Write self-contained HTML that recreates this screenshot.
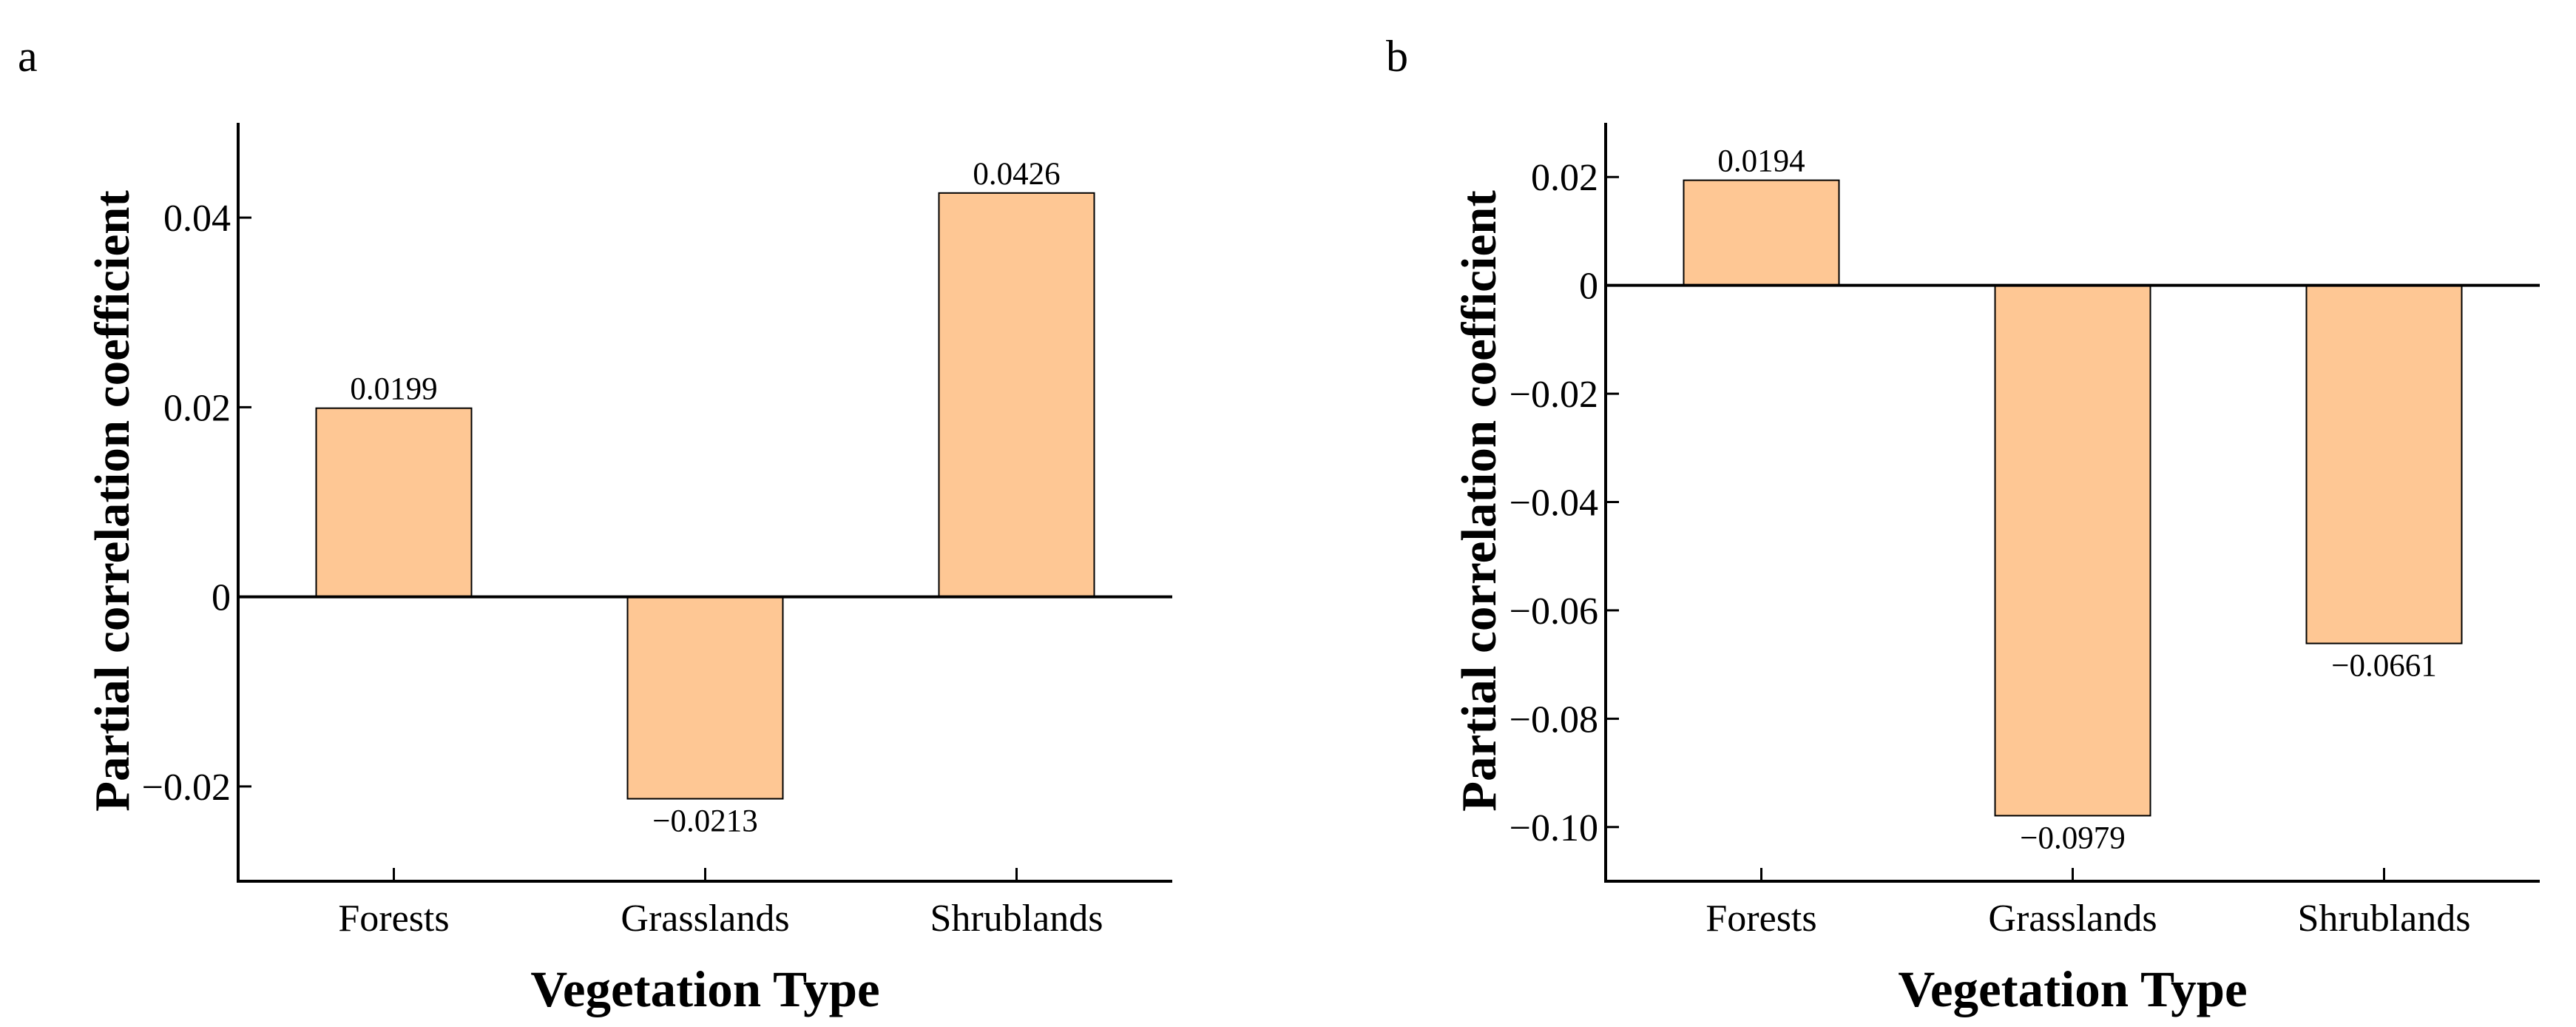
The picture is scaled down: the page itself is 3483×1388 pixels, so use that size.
<!DOCTYPE html>
<html><head><meta charset="utf-8">
<style>
html,body{margin:0;padding:0;background:#fff;}
svg{display:block;font-family:"Liberation Serif","Times New Roman",serif;}
</style></head>
<body>
<svg id="fig" width="3483" height="1388" viewBox="0 0 3483 1388" xmlns="http://www.w3.org/2000/svg">
<rect width="3483" height="1388" fill="#fff"/>
</svg>
<script>
const categories = ["Forests", "Grasslands", "Shrublands"];
const valuesA = [0.0199, -0.0213, 0.0426];
const valuesB = [0.0194, -0.0979, -0.0661];
const labelsA = ["0.0199", "\u22120.0213", "0.0426"];
const labelsB = ["0.0194", "\u22120.0979", "\u22120.0661"];
const ticksA = [0.04, 0.02, 0, -0.02];
const tickLabelsA = ["0.04", "0.02", "0", "\u22120.02"];
const ticksB = [0.02, 0, -0.02, -0.04, -0.06, -0.08, -0.10];
const tickLabelsB = ["0.02", "0", "\u22120.02", "\u22120.04", "\u22120.06", "\u22120.08", "\u22120.10"];

const NS = "http://www.w3.org/2000/svg";
const svg = document.getElementById("fig");
function mk(tag, attrs, parent, text) {
  const e = document.createElementNS(NS, tag);
  for (const k in attrs) e.setAttribute(k, attrs[k]);
  if (text !== undefined) e.textContent = text;
  parent.appendChild(e);
  return e;
}

function panel(id, letter, letterX, x0, x1, yTop, yBot, vmin, vmax, ticks, tickLabels, values, labels, ylabX) {
  const g = mk("g", {}, svg);
  
  
  const y = v => yTop + (vmax - v) / (vmax - vmin) * (yBot - yTop);
  const band = (x1 - x0) / categories.length;
  const xc = i => x0 + band * (i + 0.5);
  const bw = 210;

  const lt = mk("text", {x: letterX, y: 96, "font-size": 60}, g, letter);
  
  

  values.forEach((v, i) => {
    const top = Math.min(y(v), y(0)), h = Math.abs(y(v) - y(0));
    const r = mk("rect", {x: xc(i) - bw / 2, y: top, width: bw, height: h, fill: "#FEC794", stroke: "#000", "stroke-width": 2}, g);
    
    
    const ty = v >= 0 ? y(v) - 12 : y(v) + 44;
    const t = mk("text", {x: xc(i), y: ty, "font-size": 43, "text-anchor": "middle"}, g, labels[i]);
    
    
  });

  const zl = mk("line", {x1: x0, x2: x1, y1: y(0), y2: y(0), stroke: "#000", "stroke-width": 4}, g);
  
  

  const ya = mk("line", {x1: x0, x2: x0, y1: yTop, y2: yBot + 2, stroke: "#000", "stroke-width": 4}, g);
  
  
  const xa = mk("line", {x1: x0 - 2, x2: x1, y1: yBot, y2: yBot, stroke: "#000", "stroke-width": 4}, g);
  
  

  ticks.forEach((tv, i) => {
    const tk = mk("line", {x1: x0, x2: x0 + 18, y1: y(tv), y2: y(tv), stroke: "#000", "stroke-width": 3}, g);
    
    
    const tl = mk("text", {x: x0 - 10, y: y(tv) + 18, "font-size": 52, "text-anchor": "end"}, g, tickLabels[i]);
    
    
  });

  categories.forEach((c, i) => {
    const tk = mk("line", {x1: xc(i), x2: xc(i), y1: yBot, y2: yBot - 18, stroke: "#000", "stroke-width": 3}, g);
    
    
    const tl = mk("text", {x: xc(i), y: 1258, "font-size": 52, "text-anchor": "middle"}, g, c);
    
    
  });

  const xt = mk("text", {x: (x0 + x1) / 2, y: 1360, "font-size": 69, "font-weight": "bold", "text-anchor": "middle"}, g, "Vegetation Type");
  
  
  const yt = mk("text", {x: ylabX, y: 677, "font-size": 67, "font-weight": "bold", "text-anchor": "middle", transform: "rotate(-90 " + ylabX + " 677)"}, g, "Partial correlation coefficient");
  
  
}

panel("a", "a", 24, 322, 1585, 166, 1191, -0.03, 0.05, ticksA, tickLabelsA, valuesA, labelsA, 174);
panel("b", "b", 1874, 2171, 3434, 166, 1191, -0.11, 0.03, ticksB, tickLabelsB, valuesB, labelsB, 2022);
</script>
</body></html>
